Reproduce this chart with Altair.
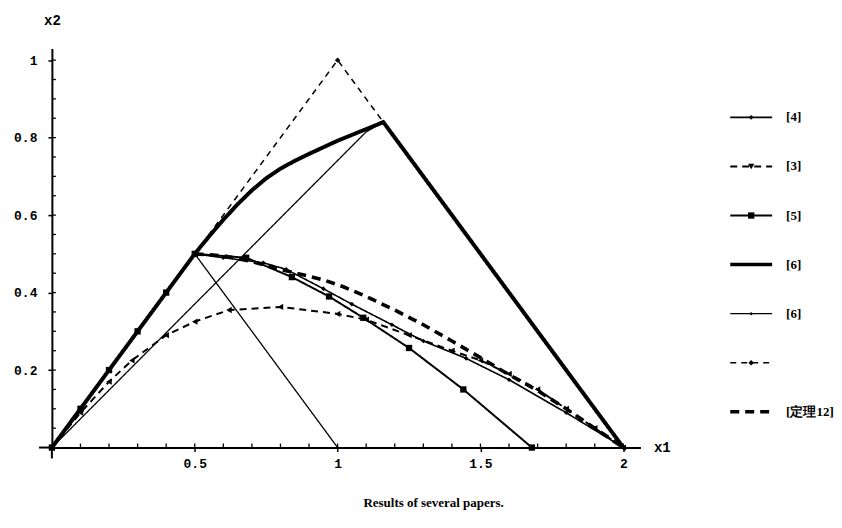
import altair as alt
import pandas as pd

# ---- data ----
s4_x = [0, 0.1, 0.2, 0.3, 0.4, 0.5, 0.6, 0.74, 0.82, 0.95, 1.05, 1.19, 1.3, 1.45, 1.6, 1.8, 2.0]
s4_y = [0, 0.1, 0.2, 0.3, 0.4, 0.5, 0.49, 0.477, 0.46, 0.41, 0.37, 0.317, 0.275, 0.23, 0.175, 0.09, 0.0]

s3_x = [0, 0.1, 0.2, 0.28, 0.4, 0.5, 0.62, 0.8, 1.0, 1.1, 1.25, 1.4, 1.5, 1.6, 1.7, 1.8, 1.9, 2.0]
s3_y = [0, 0.09, 0.17, 0.225, 0.29, 0.325, 0.355, 0.363, 0.345, 0.33, 0.29, 0.25, 0.225, 0.19, 0.15, 0.1, 0.05, 0.0]

s5_x = [0, 0.1, 0.2, 0.3, 0.4, 0.5, 0.68, 0.84, 0.97, 1.09, 1.25, 1.44, 1.68]
s5_y = [0, 0.1, 0.2, 0.3, 0.4, 0.5, 0.49, 0.44, 0.39, 0.335, 0.257, 0.15, 0.0]

s6a_x = [0, 0.5, 0.55, 0.6, 0.65, 0.7, 0.75, 0.8, 0.85, 0.9, 0.95, 1.0, 1.08, 1.16, 2.0]
s6a_y = [0, 0.5, 0.545, 0.588, 0.628, 0.664, 0.695, 0.72, 0.74, 0.758, 0.775, 0.792, 0.816, 0.84, 0.0]

s6b_x = [1.0, 0.5, 0.0, 1.1, 1.16]
s6b_y = [0.0, 0.5, 0.0, 0.815, 0.84]
s6b_seg = [0, 0, 1, 1, 1]

s7_x = [0, 1.0, 2.0]
s7_y = [0, 1.0, 0.0]

s8_x = [0.5, 0.6, 0.7, 0.8, 0.95, 1.02, 1.1, 1.2, 1.3, 1.4, 1.5, 1.6, 1.7, 1.8, 1.9, 2.0]
s8_y = [0.5, 0.495, 0.48, 0.46, 0.433, 0.415, 0.39, 0.355, 0.317, 0.275, 0.232, 0.188, 0.147, 0.1, 0.05, 0.0]

legend_labels = ["[4]", "[3]", "[5]", "[6]", "[6]", "", "[定理12]"]

x_ticks = [0.5, 1, 1.5, 2]
y_ticks = [0.2, 0.4, 0.6, 0.8, 1]
x_minor = [0.1, 0.2, 0.3, 0.4, 0.5, 0.6, 0.7, 0.8, 0.9, 1.0, 1.1, 1.2, 1.3, 1.4, 1.5,
           1.6, 1.7, 1.8, 1.9, 2.0]
y_minor = [0.05, 0.1, 0.15, 0.2, 0.25, 0.3, 0.35, 0.4, 0.45, 0.5, 0.55, 0.6, 0.65, 0.7,
           0.75, 0.8, 0.85, 0.9, 0.95, 1.0]
caption = "Results of several papers."

# ---- styles ----
styles = [
    dict(xs=s4_x, ys=s4_y, dash=[1, 0], width=1.6, shape="diamond", size=22, markers=True),
    dict(xs=s3_x, ys=s3_y, dash=[7, 5], width=2.0, shape="triangle-left", size=40, markers=True),
    dict(xs=s5_x, ys=s5_y, dash=[1, 0], width=2.0, shape="square", size=40, markers=True),
    dict(xs=s6a_x, ys=s6a_y, dash=[1, 0], width=4.0, shape="diamond", size=0, markers=False),
    dict(xs=s6b_x, ys=s6b_y, dash=[1, 0], width=1.3, shape="diamond", size=0, markers=False, seg=s6b_seg),
    dict(xs=s7_x, ys=s7_y, dash=[6, 5], width=1.5, shape="diamond", size=30, markers="peak"),
    dict(xs=s8_x, ys=s8_y, dash=[9, 6], width=3.6, shape="diamond", size=0, markers=False),
]

W, H = 590, 400
xscale = alt.Scale(domain=[0, 2.06], nice=False, zero=False)
yscale = alt.Scale(domain=[0, 1.03], nice=False, zero=False)

MONO = "Liberation Mono"

xaxis = alt.Axis(values=x_ticks, format="~g", grid=False, domainColor="black", domainWidth=2,
                 tickColor="black", tickSize=4, tickWidth=1.5, labelFont=MONO, labelFontWeight="bold",
                 labelFontSize=13, labelColor="black", labelPadding=6,
                 title="x1", titleFont=MONO, titleFontWeight="bold", titleFontSize=14,
                 titleX=W + 13, titleY=0, titleAlign="left", titleBaseline="middle",
                 titleColor="black")
yaxis = alt.Axis(values=y_ticks, format="~g", grid=False, domainColor="black", domainWidth=2,
                 tickColor="black", tickSize=4, tickWidth=1.5, labelFont=MONO, labelFontWeight="bold",
                 labelFontSize=13, labelColor="black", labelPadding=11,
                 title="x2", titleFont=MONO, titleFontWeight="bold", titleFontSize=14,
                 titleX=0, titleY=-28, titleAlign="center", titleAngle=0,
                 titleBaseline="middle", titleColor="black")

layers = []
for i, st in enumerate(styles):
    n = len(st["xs"])
    df = pd.DataFrame({"x": st["xs"], "y": st["ys"], "ord": list(range(n)),
                       "seg": st.get("seg", [0] * n)})
    line = alt.Chart(df).mark_line(color="black", strokeWidth=st["width"],
                                   strokeDash=st["dash"]).encode(
        x=alt.X("x:Q", scale=xscale, axis=xaxis),
        y=alt.Y("y:Q", scale=yscale, axis=yaxis),
        order="ord:Q",
        detail="seg:N",
    )
    layers.append(line)
    if st["markers"]:
        mdf = df if st["markers"] is True else df.iloc[[1]]
        pts = alt.Chart(mdf).mark_point(filled=True, color="black", opacity=1,
                                        shape=st["shape"], size=st["size"]).encode(
            x=alt.X("x:Q", scale=xscale, axis=xaxis), y=alt.Y("y:Q", scale=yscale, axis=yaxis))
        layers.append(pts)

# small axis overhangs past the origin, as in the reference
ov = pd.DataFrame({"x": [-0.045, 0.0], "x2": [0.0, 0.0], "y": [0.0, -0.028], "y2": [0.0, 0.0]})
layers.append(alt.Chart(ov).mark_rule(color="black", strokeWidth=2, clip=False).encode(
    x=alt.X("x:Q", scale=xscale, axis=xaxis), x2="x2:Q",
    y=alt.Y("y:Q", scale=yscale, axis=yaxis), y2="y2:Q"))

# minor inward ticks along both axes
xm = pd.DataFrame({"x": x_minor})
layers.append(alt.Chart(xm).mark_rule(color="black", strokeWidth=1.3).encode(
    x=alt.X("x:Q", scale=xscale, axis=xaxis),
    y=alt.value(H - 4), y2=alt.value(H)))
ym = pd.DataFrame({"y": y_minor})
layers.append(alt.Chart(ym).mark_rule(color="black", strokeWidth=1.3).encode(
    y=alt.Y("y:Q", scale=yscale, axis=yaxis),
    x=alt.value(0), x2=alt.value(4)))

main = alt.layer(*layers).properties(width=W, height=H)

# ---- legend ----
LW = 96
leg_layers = []
lx = alt.Scale(domain=[0, LW], nice=False, zero=False)
ly = alt.Scale(domain=[0, H], reverse=True, nice=False, zero=False)
for i, (lab, st) in enumerate(zip(legend_labels, styles)):
    ypos = 69 + 49.2 * i
    rdf = pd.DataFrame({"x": [0], "x2": [42], "y": [ypos], "xm": [21], "xt": [56], "t": [lab]})
    leg_layers.append(alt.Chart(rdf).mark_rule(color="black", strokeWidth=min(st["width"], 3.5),
                                               strokeDash=st["dash"]).encode(
        x=alt.X("x:Q", scale=lx, axis=None), x2="x2:Q", y=alt.Y("y:Q", scale=ly, axis=None)))
    sz = st["size"] if st["size"] else 12
    leg_layers.append(alt.Chart(rdf).mark_point(filled=True, color="black", opacity=1,
                                                shape="triangle-down" if i == 1 else st["shape"],
                                                size=sz).encode(
        x=alt.X("xm:Q", scale=lx, axis=None), y=alt.Y("y:Q", scale=ly, axis=None)))
    leg_layers.append(alt.Chart(rdf).mark_text(align="left", baseline="middle", font="Liberation Serif",
                                               fontSize=13, fontWeight="bold", color="black").encode(
        x=alt.X("xt:Q", scale=lx, axis=None), y=alt.Y("y:Q", scale=ly, axis=None), text="t:N"))

legend = alt.layer(*leg_layers).properties(width=LW, height=H)

chart = alt.hconcat(main, legend, spacing=58).properties(
    padding={"left": 5, "top": 5, "right": 0, "bottom": 5},
    title=alt.TitleParams(caption, orient="bottom", anchor="middle", font="Liberation Serif",
                          fontSize=13, fontWeight="bold", color="black", offset=27, dx=10)
).configure_view(stroke=None)

chart.save("out.html", embed_options={"renderer": "svg", "actions": False})
